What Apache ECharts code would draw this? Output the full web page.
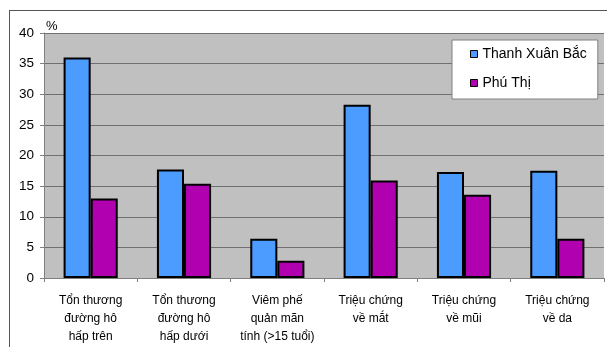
<!DOCTYPE html>
<html>
<head>
<meta charset="utf-8">
<script src="https://cdn.jsdelivr.net/npm/echarts@6/dist/echarts.min.js"></script>
<style>
  html, body { margin: 0; padding: 0; background: #ffffff; }
  #chart { width: 607px; height: 347px; }
</style>
</head>
<body>
<div id="chart"></div>
<script>
// Symptom rates (%) in two wards
const categories = [
  'Tổn thương\nđường hô\nhấp trên',
  'Tổn thương\nđường hô\nhấp dưới',
  'Viêm phế\nquản mãn\ntính (>15 tuổi)',
  'Triệu chứng\nvề mắt',
  'Triệu chứng\nvề mũi',
  'Triệu chứng\nvề da'
];
const seriesNames = ['Thanh Xuân Bắc', 'Phú Thị'];
const thanhXuanBac = [36.0, 17.7, 6.4, 28.3, 17.3, 17.5];
const phuThi = [13.0, 15.4, 2.8, 15.9, 13.6, 6.4];
const yTicks = [0, 5, 10, 15, 20, 25, 30, 35, 40];

const FONT = 'Liberation Sans, Arial, sans-serif';
const chart = echarts.init(document.getElementById('chart'));

chart.setOption({
  animation: false,
  backgroundColor: '#ffffff',
  textStyle: { fontFamily: FONT },
  graphic: [
    // outer frame (left and top edges)
    { type: 'line', shape: { x1: 9.5, y1: 10, x2: 9.5, y2: 347 }, style: { stroke: '#555555', lineWidth: 1 } },
    { type: 'line', shape: { x1: 9, y1: 10.5, x2: 607, y2: 10.5 }, style: { stroke: '#555555', lineWidth: 1 } }
  ],
  grid: {
    left: 44, right: 3, top: 33, bottom: 69,
    show: true, backgroundColor: '#c0c0c0', borderWidth: 0
  },
  legend: {
    orient: 'vertical',
    left: 452, top: 40,
    backgroundColor: '#ffffff',
    borderColor: '#808080', borderWidth: 1,
    padding: [6, 11, 8, 18],
    itemWidth: 7, itemHeight: 7, itemGap: 13,
    icon: 'rect',
    itemStyle: { borderColor: '#000000', borderWidth: 1 },
    textStyle: { fontSize: 14, color: '#000000', lineHeight: 16, fontFamily: FONT },
    data: seriesNames
  },
  xAxis: {
    type: 'category',
    data: categories,
    axisLine: { show: true, lineStyle: { color: '#808080', width: 1 } },
    axisTick: { show: true, length: 4, lineStyle: { color: '#808080' } },
    axisLabel: {
      interval: 0, margin: 14, fontSize: 12, lineHeight: 18,
      color: '#000000', fontFamily: FONT
    },
    splitLine: { show: false }
  },
  yAxis: {
    type: 'value',
    min: yTicks[0], max: yTicks[yTicks.length - 1], interval: 5,
    name: '%',
    nameLocation: 'end',
    nameGap: 0,
    nameTextStyle: { align: 'left', fontSize: 13, color: '#000000', padding: [0, 0, 0, 2], fontFamily: FONT },
    axisLine: { show: true, lineStyle: { color: '#808080', width: 1 } },
    axisTick: { show: true, length: 4, lineStyle: { color: '#808080' } },
    axisLabel: { fontSize: 13.5, color: '#000000', margin: 10, fontFamily: FONT },
    splitLine: { show: true, lineStyle: { color: '#707070', width: 1 } }
  },
  series: [
    {
      name: seriesNames[0], type: 'bar', data: thanhXuanBac,
      barGap: '0%', barCategoryGap: '42%',
      itemStyle: { color: '#4c9bff', borderColor: '#000000', borderWidth: 2 }
    },
    {
      name: seriesNames[1], type: 'bar', data: phuThi,
      itemStyle: { color: '#b000b0', borderColor: '#000000', borderWidth: 2 }
    }
  ]
});
</script>
</body>
</html>
